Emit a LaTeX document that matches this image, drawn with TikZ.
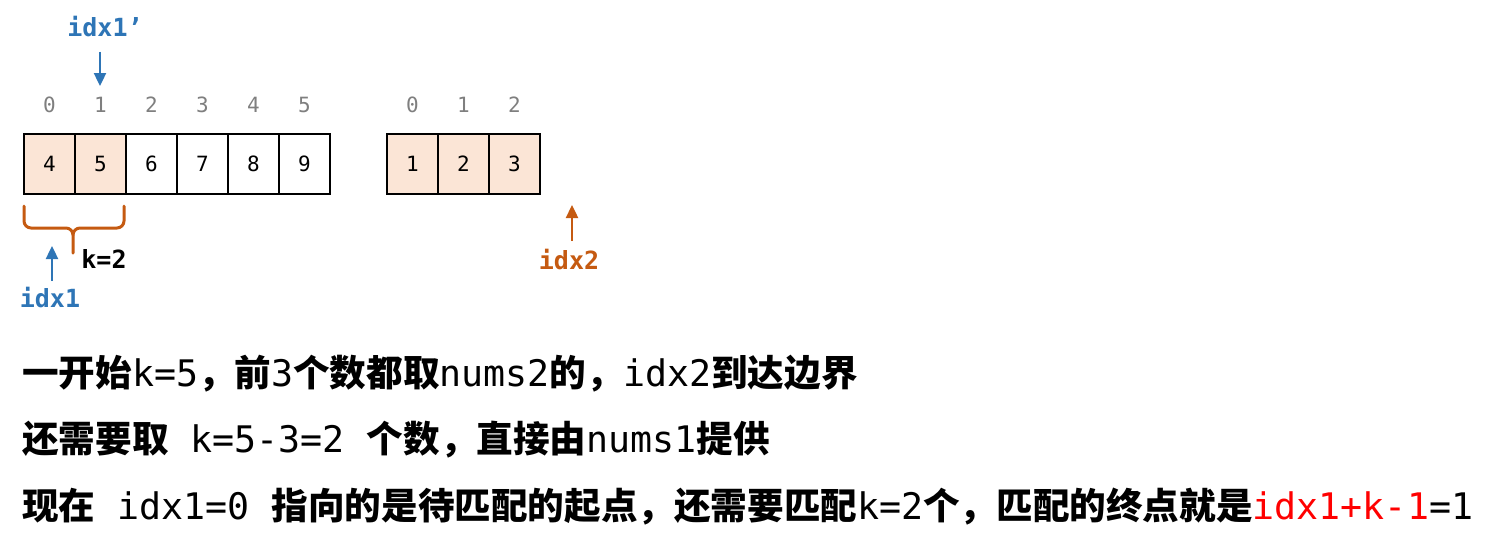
\documentclass[tikz,border=0pt]{standalone}
\usepackage{fontspec}
\setmonofont{DejaVu Sans Mono}
\newfontfamily\cjk{Noto Sans CJK SC}
\definecolor{pblue}{HTML}{2E75B6}
\definecolor{porange}{HTML}{C55A11}
\definecolor{pfill}{HTML}{FBE5D6}
\definecolor{pgray}{HTML}{7F7F7F}
\definecolor{pred}{HTML}{FF0000}
\newcommand\Zh[1]{{\cjk\bfseries #1}}
\newcommand\Mo[1]{{\ttfamily #1}}
\usetikzlibrary{arrows.meta}
\tikzset{
  cell/.style={draw=black,line width=2.5pt,minimum width=51pt,minimum height=60pt,inner sep=0pt,font=\ttfamily\fontsize{21}{22}\selectfont},
  hot/.style={cell,fill=pfill},
  idxlab/.style={font=\ttfamily\fontsize{21}{22}\selectfont,text=pgray,inner sep=0pt},
  ptr/.style={font=\ttfamily\bfseries\fontsize{25}{26}\selectfont,inner sep=0pt},
  parrow/.style={line width=2.4pt,-{Triangle[length=13pt,width=12pt]}},
  textline/.style={anchor=base west,inner sep=0pt,font=\fontsize{36.6}{40}\selectfont},
}
\begin{document}
\begin{tikzpicture}[x=1pt,y=-1pt]
\useasboundingbox (0,0) rectangle (1498,551);
% left array
\node[hot]  (a0) at (49.5,164) {4};
\node[hot]  (a1) at (100.5,164) {5};
\node[cell] (a2) at (151.5,164) {6};
\node[cell] (a3) at (202.5,164) {7};
\node[cell] (a4) at (253.5,164) {8};
\node[cell] (a5) at (304.5,164) {9};
\foreach \i/\x in {0/49.5,1/100.5,2/151.5,3/202.5,4/253.5,5/304.5}
  \node[idxlab] (ai\i) at (\x,105) {\i};
% right array
\node[hot] (b0) at (412.5,164) {1};
\node[hot] (b1) at (463.5,164) {2};
\node[hot] (b2) at (514.5,164) {3};
\foreach \i/\x in {0/412.5,1/463.5,2/514.5}
  \node[idxlab] (bi\i) at (\x,105) {\i};
% idx1'
\node[ptr,text=pblue] (p1p) at (105,27) {idx1’};
\coordinate (p1ps) at (100,52);
\coordinate (p1pe) at (100,86);
\draw[parrow,draw=pblue,fill=pblue] (p1ps) -- (p1pe);
% brace
\draw[porange,line width=3pt,line cap=round] (24,206) -- (24,221) to[out=-90,in=180] (31,228) -- (66,228) to[out=0,in=90] (73,235) -- (73,253);
\draw[porange,line width=3pt,line cap=round] (73,235) to[out=90,in=180] (80,228) -- (117,228) to[out=0,in=-90] (124,221) -- (124,206);
\node[ptr,text=black] (k2) at (104,259) {k=2};
% idx1
\node[ptr,text=pblue] (p1) at (50,298) {idx1};
\coordinate (p1s) at (52,281);
\coordinate (p1e) at (52,246);
\draw[parrow,draw=pblue,fill=pblue] (p1s) -- (p1e);
% idx2
\node[ptr,text=porange] (p2) at (569,260) {idx2};
\coordinate (p2s) at (572,241);
\coordinate (p2e) at (572,205);
\draw[parrow,draw=porange,fill=porange] (p2s) -- (p2e);
% text
\node[textline] (t1) at (22,386) {\Zh{一开始}\Mo{k=5}\Zh{，前}\Mo{3}\Zh{个数都取}\Mo{nums2}\Zh{的，}\Mo{idx2}\Zh{到达边界}};
\node[textline] (t2) at (22,452) {\Zh{还需要取}\Mo{\ k=5-3=2\ }\Zh{个数，直接由}\Mo{nums1}\Zh{提供}};
\node[textline] (t3) at (22,519) {\Zh{现在}\Mo{\ idx1=0\ }\Zh{指向的是待匹配的起点，还需要匹配}\Mo{k=2}\Zh{个，匹配的终点就是}\Mo{\textcolor{pred}{idx1+k-1}=1}};
\end{tikzpicture}
\end{document}
